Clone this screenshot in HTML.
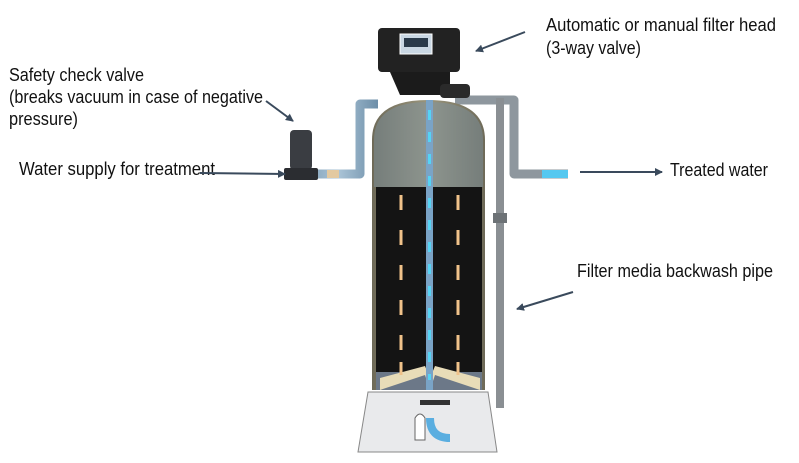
<!DOCTYPE html>
<html><head><meta charset="utf-8"><style>
html,body{margin:0;padding:0;background:#fff;width:799px;height:463px;overflow:hidden}
svg text{font-family:"Liberation Sans Narrow","Liberation Sans",sans-serif;font-size:18px;fill:#111}
</style></head><body>
<svg width="799" height="463" viewBox="0 0 799 463" xmlns="http://www.w3.org/2000/svg">
<defs>
<marker id="ah" markerWidth="8" markerHeight="8" refX="7" refY="4" orient="auto" markerUnits="userSpaceOnUse">
<path d="M0,0 L8,4 L0,8 Z" fill="#3a4a5c"/></marker>
<linearGradient id="tank" x1="0" x2="1"><stop offset="0" stop-color="#6e6a58"/><stop offset="0.5" stop-color="#9a957c"/><stop offset="1" stop-color="#6e6a58"/></linearGradient>
<linearGradient id="pipe" x1="0" x2="1"><stop offset="0" stop-color="#7d9db5"/><stop offset="0.5" stop-color="#a9c3d6"/><stop offset="1" stop-color="#6d8ea8"/></linearGradient>
</defs>
<polygon points="368,392 488,392 497,452 358,452" fill="#e9eaec" stroke="#888"/>
<rect x="420" y="400" width="30" height="5" fill="#333"/>
<path d="M415,440 v-22 q5,-8 10,0 v22z" fill="#fff" stroke="#666"/>
<path d="M430,418 q0,20 20,20" stroke="#5aaee0" stroke-width="8" fill="none"/>
<path d="M300,174 H360 V104 H378" stroke="url(#pipe)" stroke-width="9" fill="none" stroke-linejoin="round"/>
<rect x="327" y="170" width="12" height="8" fill="#e3c9a0"/>
<rect x="290" y="130" width="22" height="40" rx="4" fill="#3a3d42"/>
<rect x="284" y="168" width="34" height="12" rx="2" fill="#2b2d31"/>
<path d="M455,100 H514 V174 H568" stroke="#8e979e" stroke-width="9" fill="none" stroke-linejoin="round"/>
<rect x="542" y="170" width="26" height="8" fill="#55c8f0"/>
<rect x="496" y="98" width="8" height="310" fill="#8a8f93"/>
<rect x="493" y="213" width="14" height="10" fill="#6d7276"/>
<path d="M372,390 V140 Q372,100 428,100 Q485,100 485,140 V390 Z" fill="url(#tank)"/>
<path d="M374,187 V140 Q374,102 428,102 Q483,102 483,140 V187Z" fill="#7f95a3" opacity="0.45"/>
<rect x="376" y="187" width="106" height="185" fill="#141414"/>
<rect x="376" y="372" width="106" height="18" fill="#6c7888"/>
<path d="M380,390 l45,-15 l5,15 l5,-15 l45,15 v-12 l-45,-12 l-5,12 l-5,-12 l-45,12z" fill="#e8dcb8"/>
<rect x="426" y="100" width="7" height="290" fill="#7aa3c6"/>
<line x1="429.5" y1="110" x2="429.5" y2="380" stroke="#55d4f5" stroke-width="3" stroke-dasharray="10 12"/>
<g stroke="#f0c28a" stroke-width="3">
<line x1="401" y1="195" x2="401" y2="210"/><line x1="401" y1="230" x2="401" y2="245"/><line x1="401" y1="265" x2="401" y2="280"/><line x1="401" y1="300" x2="401" y2="315"/><line x1="401" y1="335" x2="401" y2="350"/><line x1="401" y1="362" x2="401" y2="375"/>
<line x1="458" y1="195" x2="458" y2="210"/><line x1="458" y1="230" x2="458" y2="245"/><line x1="458" y1="265" x2="458" y2="280"/><line x1="458" y1="300" x2="458" y2="315"/><line x1="458" y1="335" x2="458" y2="350"/><line x1="458" y1="362" x2="458" y2="375"/>
</g>
<rect x="378" y="28" width="82" height="44" rx="4" fill="#222"/>
<path d="M390,72 H450 V95 H400Z" fill="#1b1b1b"/>
<rect x="440" y="84" width="30" height="14" rx="4" fill="#2a2a2a"/>
<rect x="400" y="34" width="32" height="20" fill="#c9d7e3" stroke="#fff"/>
<rect x="404" y="38" width="24" height="9" fill="#2a3a4a"/>
<text x="9" y="81" textLength="135" lengthAdjust="spacingAndGlyphs">Safety check valve</text>
<text x="9" y="103" textLength="254" lengthAdjust="spacingAndGlyphs">(breaks vacuum in case of negative</text>
<text x="9" y="125" textLength="69" lengthAdjust="spacingAndGlyphs">pressure)</text>
<text x="19" y="175" textLength="196" lengthAdjust="spacingAndGlyphs">Water supply for treatment</text>
<text x="546" y="31" textLength="230" lengthAdjust="spacingAndGlyphs">Automatic or manual filter head</text>
<text x="546" y="54" textLength="95" lengthAdjust="spacingAndGlyphs">(3-way valve)</text>
<text x="670" y="176" textLength="98" lengthAdjust="spacingAndGlyphs">Treated water</text>
<text x="577" y="277" textLength="196" lengthAdjust="spacingAndGlyphs">Filter media backwash pipe</text>
<g stroke="#3a4a5c" stroke-width="2" fill="none" marker-end="url(#ah)">
<line x1="525" y1="32" x2="476" y2="51"/>
<line x1="266" y1="101" x2="293" y2="121"/>
<line x1="200" y1="173" x2="285" y2="174"/>
<line x1="580" y1="172" x2="662" y2="172"/>
<line x1="573" y1="292" x2="517" y2="309"/>
</g>
</svg>
</body></html>
